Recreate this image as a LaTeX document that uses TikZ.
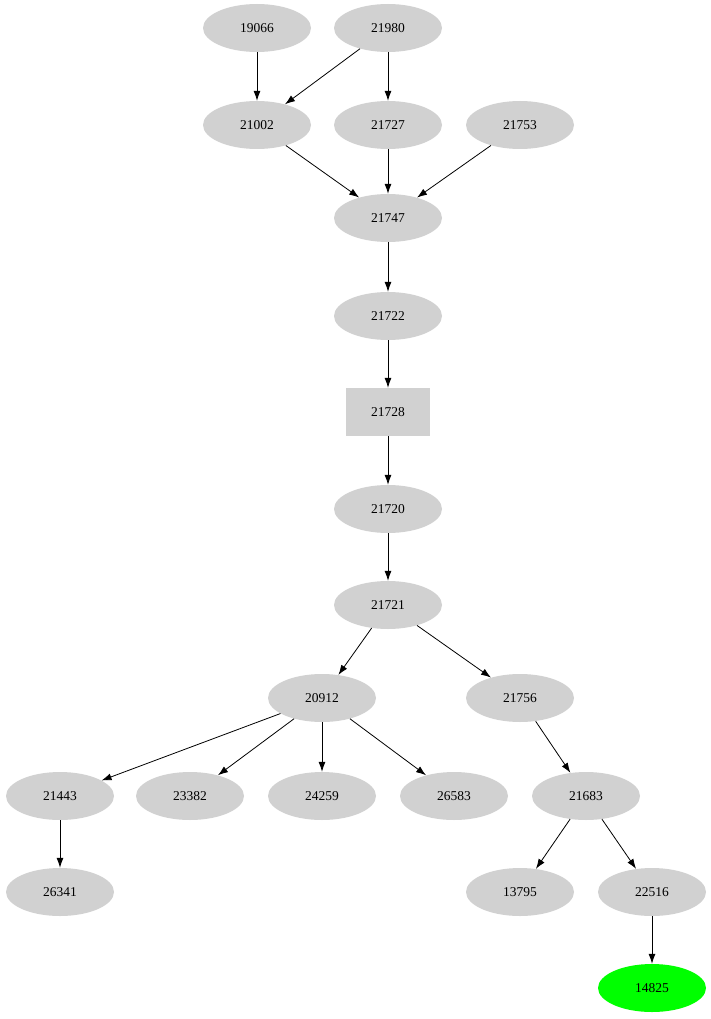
\documentclass[tikz,border=0pt]{standalone}
\usepackage{fontspec}
\setmainfont{Liberation Serif}
\usetikzlibrary{shapes.geometric,arrows.meta}
\begin{document}
\begin{tikzpicture}[x=1pt,y=-1pt,
  el/.style={ellipse,fill=black!18,minimum width=108pt,minimum height=48pt,inner sep=0pt,font=\fontsize{13.5}{14}\selectfont},
  bx/.style={rectangle,fill=black!18,minimum width=84pt,minimum height=48pt,inner sep=0pt,font=\fontsize{13.5}{14}\selectfont},
  ar/.style={-{Latex[length=10pt,width=7pt]},line width=0.8pt}]
\useasboundingbox (0,0) rectangle (711,1019);
\node[el] (a19066) at (257,28) {19066};
\node[el] (a21980) at (388,28) {21980};
\node[el] (a21002) at (257,125) {21002};
\node[el] (a21727) at (388,125) {21727};
\node[el] (a21753) at (520,125) {21753};
\node[el] (a21747) at (388,218) {21747};
\node[el] (a21722) at (388,316) {21722};
\node[bx] (a21728) at (388,412) {21728};
\node[el] (a21720) at (388,509) {21720};
\node[el] (a21721) at (388,605) {21721};
\node[el] (a20912) at (322,698) {20912};
\node[el] (a21756) at (520,698) {21756};
\node[el] (a21443) at (60,796) {21443};
\node[el] (a23382) at (190,796) {23382};
\node[el] (a24259) at (322,796) {24259};
\node[el] (a26583) at (454,796) {26583};
\node[el] (a21683) at (586,796) {21683};
\node[el] (a26341) at (60,892) {26341};
\node[el] (a13795) at (520,892) {13795};
\node[el] (a22516) at (652,892) {22516};
\node[el,fill={rgb,255:red,0;green,255;blue,0}] (a14825) at (652,988) {14825};
\draw[ar] (a19066)--(a21002);
\draw[ar] (a21980)--(a21002);
\draw[ar] (a21980)--(a21727);
\draw[ar] (a21002)--(a21747);
\draw[ar] (a21727)--(a21747);
\draw[ar] (a21753)--(a21747);
\draw[ar] (a21747)--(a21722);
\draw[ar] (a21722)--(a21728);
\draw[ar] (a21728)--(a21720);
\draw[ar] (a21720)--(a21721);
\draw[ar] (a21721)--(a20912);
\draw[ar] (a21721)--(a21756);
\draw[ar] (a20912)--(a21443);
\draw[ar] (a20912)--(a23382);
\draw[ar] (a20912)--(a24259);
\draw[ar] (a20912)--(a26583);
\draw[ar] (a21756)--(a21683);
\draw[ar] (a21443)--(a26341);
\draw[ar] (a21683)--(a13795);
\draw[ar] (a21683)--(a22516);
\draw[ar] (a22516)--(a14825);
\end{tikzpicture}
\end{document}
